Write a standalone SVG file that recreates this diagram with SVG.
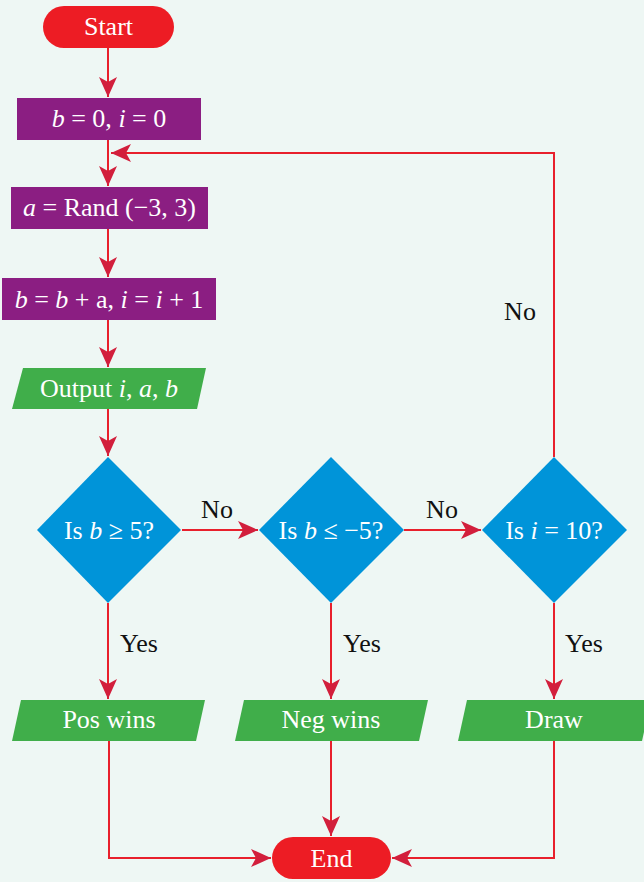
<svg xmlns="http://www.w3.org/2000/svg" width="644" height="882" viewBox="0 0 644 882">
<defs>
<marker id="ah" markerUnits="userSpaceOnUse" markerWidth="22" markerHeight="18" refX="20" refY="9" orient="auto">
<path d="M0,0 L20,9 L0,18 L5,9 Z" fill="#D21F3C"/>
</marker>
<style>
.bg{fill:#EEF7F4}
.term{fill:#ED1C24}
.proc{fill:#8B1E82}
.io{fill:#40AE4A}
.dec{fill:#0094D9}
.t{font-family:'Liberation Serif','Tinos','DejaVu Serif',serif;font-size:26px;fill:#FFFFFF;text-anchor:middle}
.l{font-family:'Liberation Serif','Tinos','DejaVu Serif',serif;font-size:26px;fill:#111111;text-anchor:middle}
.c{fill:none;stroke:#E8202C;stroke-width:2;marker-end:url(#ah)}
</style>
</defs>
<rect class="bg" x="0" y="0" width="644" height="882"/>
<g id="connectors">
<path class="c" d="M108,48 V97"/>
<path class="c" d="M108,140 V186"/>
<path class="c" d="M554,457 V153 H111"/>
<path class="c" d="M108,229 V277"/>
<path class="c" d="M108,320 V367"/>
<path class="c" d="M108,409 V456"/>
<path class="c" d="M182,530 H258"/>
<path class="c" d="M404,530 H481"/>
<path class="c" d="M108,603 V699"/>
<path class="c" d="M331,603 V699"/>
<path class="c" d="M554,603 V699"/>
<path class="c" d="M109,741 V858 H271"/>
<path class="c" d="M331,741 V836"/>
<path class="c" d="M554,741 V858 H392"/>
<text class="l" x="217" y="518">No</text>
<text class="l" x="442" y="518">No</text>
<text class="l" x="520" y="320">No</text>
<text class="l" x="139" y="652">Yes</text>
<text class="l" x="362" y="652">Yes</text>
<text class="l" x="584" y="652">Yes</text>
</g>
<g id="start">
<rect class="term" x="43" y="6" width="131" height="42" rx="21"/>
<text class="t" x="108.5" y="35">Start</text>
</g>
<g id="init">
<rect class="proc" x="17" y="98" width="184" height="42"/>
<text class="t" x="109" y="127"><tspan font-style="italic">b</tspan> = 0, <tspan font-style="italic">i</tspan> = 0</text>
</g>
<g id="rand">
<rect class="proc" x="11" y="187" width="197" height="42"/>
<text class="t" x="109.5" y="216"><tspan font-style="italic">a</tspan> = Rand (−3, 3)</text>
</g>
<g id="update">
<rect class="proc" x="2" y="278" width="214" height="42"/>
<text class="t" x="109" y="308"><tspan font-style="italic">b</tspan> = <tspan font-style="italic">b</tspan> + a, <tspan font-style="italic">i</tspan> = <tspan font-style="italic">i</tspan> + 1</text>
</g>
<g id="output">
<polygon class="io" points="23,368 206,368 197,409 12,409"/>
<text class="t" x="109" y="397">Output <tspan font-style="italic">i</tspan>, <tspan font-style="italic">a</tspan>, <tspan font-style="italic">b</tspan></text>
</g>
<g id="dec1">
<polygon class="dec" points="108,457 181,530 108,603 37,530"/>
<text class="t" x="109" y="539">Is <tspan font-style="italic">b</tspan> ≥ 5?</text>
</g>
<g id="dec2">
<polygon class="dec" points="331,457 404,530 331,603 259,530"/>
<text class="t" x="331" y="539">Is <tspan font-style="italic">b</tspan> ≤ −5?</text>
</g>
<g id="dec3">
<polygon class="dec" points="554,457 627,530 554,603 482,530"/>
<text class="t" x="554" y="539">Is <tspan font-style="italic">i</tspan> = 10?</text>
</g>
<g id="pos">
<polygon class="io" points="21,700 205,700 196,741 12,741"/>
<text class="t" x="109" y="728">Pos wins</text>
</g>
<g id="neg">
<polygon class="io" points="244,700 428,700 419,741 235,741"/>
<text class="t" x="331" y="728">Neg wins</text>
</g>
<g id="draw">
<polygon class="io" points="467,700 651,700 642,741 458,741"/>
<text class="t" x="554" y="728">Draw</text>
</g>
<g id="end">
<rect class="term" x="272" y="837" width="119" height="42" rx="21"/>
<text class="t" x="331.5" y="867">End</text>
</g>
</svg>
